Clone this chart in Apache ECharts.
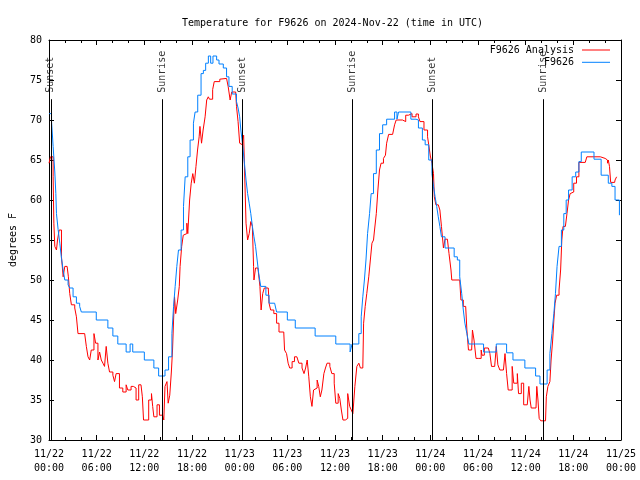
<!DOCTYPE html>
<html><head><meta charset="utf-8">
<script src="https://cdn.jsdelivr.net/npm/echarts@6/dist/echarts.min.js"></script>
<style>html,body{margin:0;padding:0;background:#fff}#c{width:640px;height:480px}</style>
</head><body><div id="c"></div>
<script>
const titleText = 'Temperature for F9626 on 2024-Nov-22 (time in UTC)';
const yAxisName = 'degrees F';
const seriesNames = ['F9626 Analysis', 'F9626'];
const xTickLabels = ['11/22\n00:00','11/22\n06:00','11/22\n12:00','11/22\n18:00','11/23\n00:00','11/23\n06:00','11/23\n12:00','11/23\n18:00','11/24\n00:00','11/24\n06:00','11/24\n12:00','11/24\n18:00','11/25\n00:00'];

// hours since 11/22 00:00 UTC
const analysisHours = [0.0,0.19,0.52,0.61,0.73,0.94,1.07,1.28,1.48,1.57,1.78,1.99,2.28,2.44,2.61,2.82,3.24,3.45,3.65,4.49,4.7,4.91,5.12,5.32,5.66,5.87,6.16,6.37,6.58,6.79,6.99,7.2,7.41,7.62,8.04,8.25,8.45,8.87,9.29,9.71,9.92,10.33,10.62,10.96,11.29,11.58,11.75,11.9,12.55,12.9,13.05,13.2,13.6,13.9,14.3,14.45,14.6,14.85,15.0,15.2,15.4,15.55,15.68,15.8,15.95,16.2,16.4,16.5,16.7,16.9,17.1,17.35,17.47,17.7,17.9,18.1,18.3,18.5,18.7,18.9,19.0,19.2,19.4,19.65,19.85,20.05,20.2,20.6,20.8,21.5,21.7,22.35,22.55,22.8,23.0,23.5,23.6,23.8,24.0,24.2,24.35,24.5,24.65,24.8,25.0,25.2,25.4,25.6,25.75,25.8,26.0,26.3,26.55,26.7,26.9,27.1,27.6,27.7,27.9,28.3,28.65,28.95,29.55,29.65,29.9,30.1,30.3,30.6,30.9,31.2,31.45,31.85,32.1,32.3,32.5,32.7,32.9,33.1,33.3,33.5,33.75,33.95,34.15,34.35,34.6,34.8,35.0,35.35,35.6,35.9,36.1,36.4,36.6,36.8,37.0,37.3,37.6,37.85,38.05,38.25,38.5,38.75,39.0,39.2,39.5,39.6,39.8,40.0,40.25,40.45,40.65,40.85,40.95,41.2,41.4,41.6,41.8,42.1,42.35,42.5,42.75,43.25,43.5,43.7,44.5,44.7,44.9,45.25,45.7,46.2,46.5,46.7,47.2,47.65,47.8,48.0,48.2,48.4,48.5,48.7,49.0,49.2,49.4,49.65,49.85,50.15,50.35,50.6,50.7,51.7,51.85,52.15,52.45,52.6,52.8,53.2,53.3,53.5,53.75,54.1,54.4,54.5,54.8,55.3,55.5,55.7,56.1,56.3,56.5,56.75,57.2,57.4,57.6,57.8,58.0,58.3,58.5,58.75,58.95,59.1,59.45,59.75,60.2,60.4,60.55,60.7,61.3,61.4,61.55,61.7,61.9,62.5,62.6,62.8,63.05,63.2,63.4,63.55,63.7,63.9,64.2,64.4,64.55,64.7,65.0,65.2,65.4,65.6,65.85,66.05,66.4,66.7,67.5,67.7,69.4,69.6,70.0,70.3,70.4,70.55,70.7,71.2,71.25,71.45];
const analysisTemps = [64.6,65.4,62.9,57.1,54.2,53.75,55,56.25,56.25,52.9,50.4,51.7,51.7,50.4,48.3,46.9,46.5,45.4,43.3,43.3,41.7,40.4,40,41.25,43.3,42.1,40,41,40,39.6,39.2,41.7,39.6,38.5,38.1,37.3,38.3,36.5,36,36.9,36.25,36.7,36.5,35,36.9,36.7,35.4,32.5,35,35.8,34.2,32.9,34.4,33.1,33.3,32.5,36.7,37.3,34.6,35.6,38.5,41.25,45,47.9,45.8,47.5,49.2,51.7,54.2,55.6,55.8,57.1,55.8,60,62.1,63.3,62.1,64.2,66.25,67.9,69.2,67.1,68.75,70.4,72.5,72.9,72.6,73.8,74.8,75.1,75.2,75.2,74.2,72.5,73.5,73.3,71.7,69.8,67.1,66.9,67.5,68.1,62.5,57.1,55,55.8,57.3,56.7,51.7,50,51.5,51.25,49.2,46.25,48.3,49,49,47.1,46.25,45.8,44.6,43.5,43.5,41.25,40.8,39.6,39,39.8,40.4,40.2,39.6,39,38.3,39,40,37.9,35.4,34.2,36.25,36.5,37.5,36.7,35.4,36.25,38.3,39,39.6,39.2,38.3,37.1,34.6,35.8,35.2,33.75,32.5,32.7,35.8,34.2,33.75,33.3,36.7,39.2,39.6,39,39,44.6,46.7,48.3,50.4,52.5,54.6,55,56,58.3,61.25,63.75,64.6,65.2,65.6,67.1,68.2,68.2,69.4,70,70,69.8,70.6,70.8,70.4,70.75,70.4,69.8,68.75,67.9,66.9,65.5,64.6,63.3,60.4,59.4,59.4,58.75,56.7,54,55.1,55.1,53.3,51.25,50,50,47.5,46.7,46.7,43.75,41.25,41.25,43.75,42.5,40.2,40.2,41.25,40.6,41.5,41.5,40.8,39.2,39.2,41.7,39.4,38.75,38.75,40.8,38.3,36.25,36.25,39.2,37.1,37.1,38.3,35.8,37.1,34.4,34.4,36.7,35,34,34,36.7,35,32.7,32.4,32.4,35.4,36.7,37.3,40,42.5,45,47.1,48.1,48.75,51.25,55,56.7,56.9,58.3,60,60.8,61,62.1,62.9,64.7,64.8,65.4,65.4,65.2,65,64.6,65,64.2,62.2,62.2,62.5,62.9];

const obsHours = [0.02,0.32,0.52,0.73,0.86,0.94,1.15,1.36,1.57,1.78,1.99,2.4,2.61,3.03,3.45,3.86,4.07,5.95,7.41,8.04,8.66,9.71,10.21,10.54,12.0,13.2,13.8,14.6,15.05,15.47,15.68,15.88,16.09,16.3,16.63,16.93,17.14,17.47,17.76,18.18,18.39,18.72,19.14,19.43,19.72,20.06,20.35,20.64,21.1,21.4,21.94,22.35,22.65,23.06,23.6,23.8,24.0,24.15,24.35,24.6,24.8,25.0,25.2,25.4,25.6,25.8,26.0,26.2,26.4,26.65,27.3,27.7,28.4,28.65,30.0,31.0,33.5,36.1,37.9,38.15,39.0,39.3,39.5,39.7,39.9,40.1,40.35,40.55,40.85,41.2,41.6,42.0,42.5,43.5,43.8,44.0,45.55,46.2,46.5,47.0,47.35,47.8,48.2,48.4,48.6,48.8,49.0,49.2,49.4,49.85,51.0,51.4,51.7,51.95,52.15,52.35,52.6,52.85,54.7,56.3,57.6,58.4,59.9,61.25,61.8,62.7,63.05,63.3,63.55,63.75,63.95,64.2,64.5,64.8,65.1,65.4,65.85,66.3,66.7,67.0,68.6,69.5,70.4,70.85,71.25,71.8];
const obsTemps = [70.8,69.8,66.7,63.5,60.8,58.3,56.3,54.6,52.7,51.25,50,49.4,49,47.9,47.1,46.7,46,45,44,43,42,41,42,41,40,39,38,38.75,40.4,43.3,46.7,49.2,51.7,53.75,56.25,59.2,62.9,65.4,67.5,69.6,71,73.1,75.8,76.2,77.1,78,77.1,78,77.5,77,76.5,75.4,74.2,73.25,72.3,71.5,70.4,68.75,67.1,64.6,62.5,60.8,59.6,58.3,56.7,55.4,54.2,52.5,50.8,49.2,48.1,47.1,46.9,46,45,44,43,42,41,42,43.3,45.4,47.9,50,52.5,55.8,58.3,60.8,63.3,66.25,68.3,69.4,70.1,71,70.1,71,70.1,70,69,67.5,66.9,65,63.3,61.7,60.4,59.2,57.9,56.7,55.4,54,52.9,52.5,50.4,48.3,46.25,44.6,43.3,42,41,42,40.9,40,39,38,37,38.75,40.8,43.3,45.8,48.3,51.7,54.2,56.25,58.3,60,61.25,62.9,63.5,64.8,66,65.1,63.1,62.1,61.7,60,58.1];

const sunHours = [0.23, 14.26, 24.29, 38.2, 48.2, 62.26];
const sunLabels = ['Sunset', 'Sunrise', 'Sunset', 'Sunrise', 'Sunset', 'Sunrise'];
const sunLineTop = 72.6;
const sunLabelBase = 73.4;

const FONT = 'DejaVu Sans Mono';
const pair = (xs, ys) => xs.map((x, i) => [x, ys[i]]);

const chart = echarts.init(document.getElementById('c'), null, {renderer: 'canvas'});
const axisCommon = {
  axisLine: {show: true, onZero: false, lineStyle: {color: '#000', width: 1}},
  splitLine: {show: false}
};
chart.setOption({
  animation: false,
  backgroundColor: '#fff',
  textStyle: {fontFamily: FONT},
  title: {text: titleText, left: 177, top: 13, textStyle: {fontFamily: FONT, fontSize: 10, fontWeight: 'normal', color: '#000'}},
  legend: {
    data: seriesNames.map(n => ({name: n, icon: 'rect'})), orient: 'vertical', align: 'right', right: 30, top: 45, padding: 0,
    itemWidth: 28, itemHeight: 1, itemGap: 2.3,
    textStyle: {fontFamily: FONT, fontSize: 10, color: '#000', lineHeight: 10, padding: [0, 3, 0, 0]}
  },
  grid: {left: 47, right: 19, top: 40, bottom: 40, containLabel: false},
  xAxis: [
    Object.assign({}, axisCommon, {type: 'value', min: 0, max: 72, interval: 6, position: 'bottom',
      axisTick: {show: true, inside: true, length: 5, lineStyle: {color: '#000'}},
      minorTick: {show: true, splitNumber: 3, length: 3, lineStyle: {color: '#000'}},
      axisLabel: {margin: 7, fontFamily: FONT, fontSize: 10, color: '#000', lineHeight: 14,
        formatter: v => xTickLabels[Math.round(v / 6)]}}),
    Object.assign({}, axisCommon, {type: 'value', min: 0, max: 72, interval: 6, position: 'top',
      axisTick: {show: true, inside: true, length: 5, lineStyle: {color: '#000'}},
      minorTick: {show: true, splitNumber: 3, length: 3, lineStyle: {color: '#000'}},
      axisLabel: {show: false}})
  ],
  yAxis: [
    Object.assign({}, axisCommon, {type: 'value', min: 30, max: 80, interval: 5, position: 'left',
      name: yAxisName, nameLocation: 'middle', nameGap: 31, nameRotate: 90,
      nameTextStyle: {fontFamily: FONT, fontSize: 10, color: '#000'},
      axisTick: {show: true, inside: true, length: 5, lineStyle: {color: '#000'}},
      axisLabel: {margin: 7, fontFamily: FONT, fontSize: 10, color: '#000'}}),
    Object.assign({}, axisCommon, {type: 'value', min: 30, max: 80, interval: 5, position: 'right',
      axisTick: {show: true, inside: true, length: 5, lineStyle: {color: '#000'}},
      axisLabel: {show: false}})
  ],
  series: [
    {name: seriesNames[0], type: 'line', xAxisIndex: 0, yAxisIndex: 0, step: 'end', symbol: 'none', showSymbol: false,
      data: pair(analysisHours, analysisTemps), color: '#ff0000', itemStyle: {color: '#ff0000'}, lineStyle: {color: '#ff0000', width: 1}, z: 3},
    {name: seriesNames[1], type: 'line', xAxisIndex: 0, yAxisIndex: 0, step: 'end', symbol: 'none', showSymbol: false,
      data: pair(obsHours, obsTemps), color: '#0080ff', itemStyle: {color: '#0080ff'}, lineStyle: {color: '#0080ff', width: 1}, z: 4},
    {name: 'sun', type: 'scatter', xAxisIndex: 0, yAxisIndex: 0, symbolSize: 0, silent: true, z: 5,
      data: sunHours.map(h => [h, sunLabelBase]),
      label: {show: true, position: 'inside', align: 'left', verticalAlign: 'middle', rotate: 90,
        fontFamily: FONT, fontSize: 10, color: '#000', formatter: p => sunLabels[p.dataIndex]},
      markLine: {silent: true, symbol: ['none', 'none'], label: {show: false},
        lineStyle: {color: '#000', width: 1, type: 'solid'},
        data: sunHours.map(h => [{coord: [h, sunLineTop]}, {coord: [h, 30]}])}}
  ]
});
</script></body></html>
